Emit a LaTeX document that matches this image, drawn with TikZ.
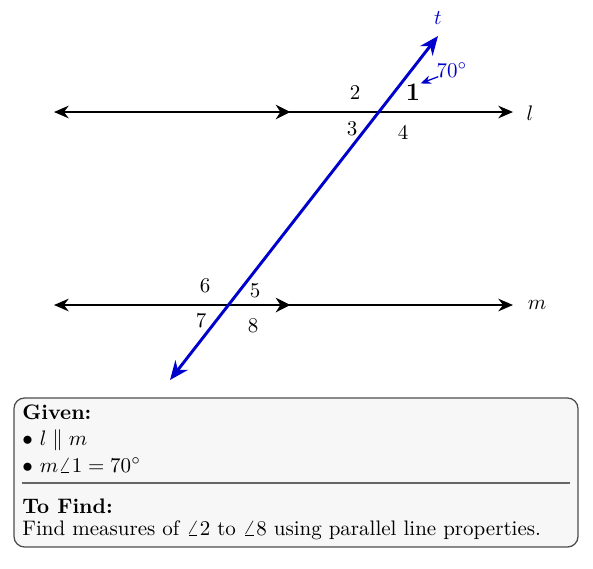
\documentclass[tikz,border=0pt]{standalone}
\usetikzlibrary{arrows.meta,decorations.markings}
\definecolor{tblue}{RGB}{0,0,204}
\begin{document}
\begin{tikzpicture}[x=0.476pt,y=-0.476pt,
  parline/.style={line width=0.9pt,black,{Stealth[length=7pt,width=6pt]}-{Stealth[length=7pt,width=6pt]},
    postaction={decorate,decoration={markings,mark=at position 0.515 with {\arrow{Stealth[length=7pt,width=7pt]}}}}},
  trans/.style={line width=1.4pt,tblue,{Stealth[length=9pt,width=7.5pt]}-{Stealth[length=9pt,width=7.5pt]}},
  anglab/.style={font=\normalsize,inner sep=0pt},
  infobox/.style={draw=black!70,fill=black!3,rounded corners=5pt,line width=0.6pt}]
\useasboundingbox (0,0) rectangle (593,568);
% lines
\coordinate (lA) at (54,112);
\coordinate (lB) at (513,112);
\coordinate (mA) at (54,305);
\coordinate (mB) at (513,305);
\coordinate (tA) at (170,380);
\coordinate (tB) at (438,36);
\draw[parline] (lA) -- (lB);
\draw[parline] (mA) -- (mB);
\draw[trans] (tA) -- (tB);
\node[anglab] (ll) at (530,113) {$l$};
\node[anglab] (ml) at (537,305) {$m$};
\node[anglab,text=tblue] (tl) at (438,18) {$t$};
% angle labels
\node[anglab,font=\large] (a1) at (413,92) {$\mathbf{1}$};
\node[anglab] (a2) at (355,93) {$2$};
\node[anglab] (a3) at (352,129) {$3$};
\node[anglab] (a4) at (403,133) {$4$};
\node[anglab] (a5) at (255,291) {$5$};
\node[anglab] (a6) at (205,286) {$6$};
\node[anglab] (a7) at (201,321) {$7$};
\node[anglab] (a8) at (253,326) {$8$};
\node[anglab,text=tblue] (deg) at (452,70) {$70^\circ$};
\draw[tblue,semithick,-{Stealth[length=5pt,width=4pt]}] (deg.south west)++(2,-1) -- (a1.north east);
% box
\draw[infobox] (14,398) rectangle (578,547);
\draw[black!60,line width=0.6pt] (22,483) -- (570,483);
\node[anchor=west,inner sep=0pt] (g) at (22,412) {\textbf{Given:}};
\node[anchor=west,inner sep=0pt] (g1) at (22,440) {$\bullet$ $l \parallel m$};
\node[anchor=west,inner sep=0pt] (g2) at (22,465) {$\bullet$ $m\angle 1 = 70^\circ$};
\node[anchor=west,inner sep=0pt] (f) at (22,506) {\textbf{To Find:}};
\node[anchor=west,inner sep=0pt] (f1) at (22,530) {Find measures of $\angle 2$ to $\angle 8$ using parallel line properties.};
\end{tikzpicture}
\end{document}
